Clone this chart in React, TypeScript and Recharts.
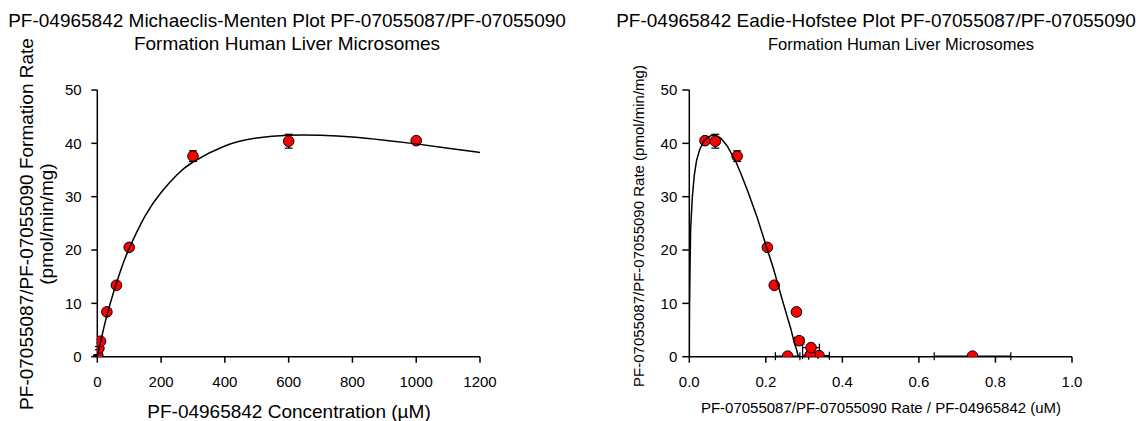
import React from 'react';
import { ScatterChart, Scatter, XAxis, YAxis, ErrorBar } from 'recharts';

const FONT = '"Liberation Sans", Arial, Helvetica, sans-serif';

// ---- Michaelis-Menten panel (left) ----
const mmConc = [0.1, 0.5, 0.6, 1, 5, 10, 30, 60, 100, 300, 600, 1000];
const mmRate = [0.1, 0.1, 0.2, 0.3, 1.6, 2.9, 8.4, 13.4, 20.5, 37.6, 40.4, 40.5];
const mmRateErr = [0.05, 0.05, 0.05, 0.1, 0.3, 0.3, 0.3, 0.3, 0.4, 1.0, 1.3, 0.3];
const mmFitConc = [0, 5, 10, 20, 30, 50, 75, 100, 150, 200, 250, 300, 400, 500, 600, 700, 800, 900, 1000, 1100, 1200];
const mmFitRate = [0, 1.4, 2.7, 5.3, 7.7, 11.9, 16.5, 20.3, 26.4, 30.8, 34.1, 36.5, 39.5, 41.0, 41.5, 41.5, 41.2, 40.6, 39.9, 39.1, 38.3];

// ---- Eadie-Hofstee panel (right) ----
const ehRatio = [0.74, 0.257, 0.339, 0.316, 0.318, 0.287, 0.28, 0.222, 0.204, 0.125, 0.068, 0.041];
const ehRate = [0.1, 0.1, 0.2, 0.3, 1.7, 3.0, 8.4, 13.4, 20.5, 37.6, 40.4, 40.5];
const ehRatioErr = [0.1, 0.032, 0.027, 0.02, 0.022, 0.012, 0.01, 0.005, 0.005, 0.003, 0.002, 0.001];
const ehRateErr = [0.05, 0.05, 0.05, 0.1, 0.3, 0.3, 0.3, 0.3, 0.4, 1.0, 1.3, 0.3];
const ehFitRatio = [0, 0.00005, 0.0005, 0.002, 0.0035, 0.008, 0.013, 0.019, 0.027, 0.037, 0.048, 0.059, 0.069, 0.082, 0.099, 0.122, 0.136, 0.154, 0.176, 0.203, 0.22, 0.238, 0.255, 0.265, 0.274, 0.28, 0.285];
const ehFitRate = [0, 3.0, 9.0, 17.5, 24.0, 30.0, 34.0, 36.8, 38.8, 40.3, 41.1, 41.5, 41.5, 41.0, 39.5, 36.5, 34.1, 30.8, 26.4, 20.3, 16.5, 11.9, 7.7, 5.3, 2.7, 1.4, 0];

// ---- ticks ----
const mmXTicks = [0, 200, 400, 600, 800, 1000, 1200];
const rateTicks = [0, 10, 20, 30, 40, 50];
const ehXTicks = [0, 0.2, 0.4, 0.6, 0.8, 1.0];

// ---- labels ----
const leftTitle = ['PF-04965842 Michaeclis-Menten Plot PF-07055087/PF-07055090', 'Formation Human Liver Microsomes'];
const rightTitle = ['PF-04965842 Eadie-Hofstee Plot PF-07055087/PF-07055090', 'Formation Human Liver Microsomes'];
const leftYLabel = ['PF-07055087/PF-07055090 Formation Rate', '(pmol/min/mg)'];
const leftXLabel = 'PF-04965842 Concentration (\u00b5M)';
const rightYLabel = 'PF-07055087/PF-07055090 Rate (pmol/min/mg)';
const rightXLabel = 'PF-07055087/PF-07055090 Rate / PF-04965842 (uM)';

const mmPoints = mmConc.map((x, i) => ({ x, y: mmRate[i], ey: mmRateErr[i] }));
const mmFit = mmFitConc.map((x, i) => ({ x, y: mmFitRate[i] }));
const ehPoints = ehRatio.map((x, i) => ({ x, y: ehRate[i], ex: ehRatioErr[i], ey: ehRateErr[i] }));
const ehFit = ehFitRatio.map((x, i) => ({ x, y: ehFitRate[i] }));

const axisStyle = { stroke: '#000', strokeWidth: 1.5 };
const tickStyle = { fontSize: 15, fill: '#000', fontFamily: FONT };

const RedDot = (props: any) => {
  const { cx, cy } = props;
  if (cx == null || cy == null) return <g />;
  return <circle cx={cx} cy={cy} r={5.3} fill="#ff0000" stroke="#000" strokeWidth={1} />;
};
const NoDot = () => <g />;

export default function App() {
  return (
    <div style={{ position: 'absolute', left: 0, top: 0, width: 1139, height: 421, background: '#fff', fontFamily: FONT }}>
      <div style={{ position: 'absolute', left: 0, top: 0 }}>
        <ScatterChart width={560} height={421} margin={{ top: 90, right: 80, bottom: 34.3, left: 37.3 }}>
          <XAxis type="number" dataKey="x" domain={[0, 1200]} ticks={mmXTicks} allowDataOverflow interval={0}
            height={30} tickSize={6} tickMargin={13.7} axisLine={axisStyle} tickLine={axisStyle} tick={tickStyle} />
          <YAxis type="number" dataKey="y" domain={[0, 50]} ticks={rateTicks} allowDataOverflow interval={0}
            width={60} tickSize={6} tickMargin={9.6} axisLine={axisStyle} tickLine={axisStyle} tick={tickStyle} />
          <Scatter data={mmPoints} shape={RedDot} isAnimationActive={false}>
            <ErrorBar dataKey="ey" direction="y" width={4} stroke="#000" strokeWidth={1.2} />
          </Scatter>
          <Scatter data={mmFit} shape={NoDot} line={{ stroke: '#000', strokeWidth: 1.5 }} lineJointType="natural" isAnimationActive={false} />
        </ScatterChart>
      </div>
      <div style={{ position: 'absolute', left: 580, top: 0 }}>
        <ScatterChart width={559} height={421} margin={{ top: 90, right: 67, bottom: 34.3, left: 49.3 }}>
          <XAxis type="number" dataKey="x" domain={[0, 1]} ticks={ehXTicks} allowDataOverflow interval={0}
            tickFormatter={(v: number) => v.toFixed(1)}
            height={30} tickSize={6} tickMargin={13.7} axisLine={axisStyle} tickLine={axisStyle} tick={tickStyle} />
          <YAxis type="number" dataKey="y" domain={[0, 50]} ticks={rateTicks} allowDataOverflow interval={0}
            width={60} tickSize={7} tickMargin={5} axisLine={axisStyle} tickLine={axisStyle} tick={tickStyle} />
          <Scatter data={ehPoints} shape={RedDot} isAnimationActive={false}>
            <ErrorBar dataKey="ey" direction="y" width={4} stroke="#000" strokeWidth={1.2} />
            <ErrorBar dataKey="ex" direction="x" width={4} stroke="#000" strokeWidth={1.2} />
          </Scatter>
          <Scatter data={ehFit} shape={NoDot} line={{ stroke: '#000', strokeWidth: 1.5 }} lineJointType="linear" isAnimationActive={false} />
        </ScatterChart>
      </div>
      <svg width={1139} height={421} style={{ position: 'absolute', left: 0, top: 0, pointerEvents: 'none' }}
        fontFamily={FONT} fill="#000">
        <text x={287} y={26.7} fontSize={19} textAnchor="middle">{leftTitle[0]}</text>
        <text x={287} y={49.7} fontSize={19} textAnchor="middle">{leftTitle[1]}</text>
        <text x={876} y={26.7} fontSize={19} textAnchor="middle">{rightTitle[0]}</text>
        <text x={901} y={49.7} fontSize={16.5} textAnchor="middle">{rightTitle[1]}</text>
        <text transform="translate(32.5,224) rotate(-90)" fontSize={19} textAnchor="middle">{leftYLabel[0]}</text>
        <text transform="translate(52.5,224) rotate(-90)" fontSize={19} textAnchor="middle">{leftYLabel[1]}</text>
        <text x={289} y={418.3} fontSize={19} textAnchor="middle">{leftXLabel}</text>
        <text transform="translate(644,226) rotate(-90)" fontSize={15} textAnchor="middle">{rightYLabel}</text>
        <text x={881} y={413.4} fontSize={15} textAnchor="middle">{rightXLabel}</text>
      </svg>
    </div>
  );
}
